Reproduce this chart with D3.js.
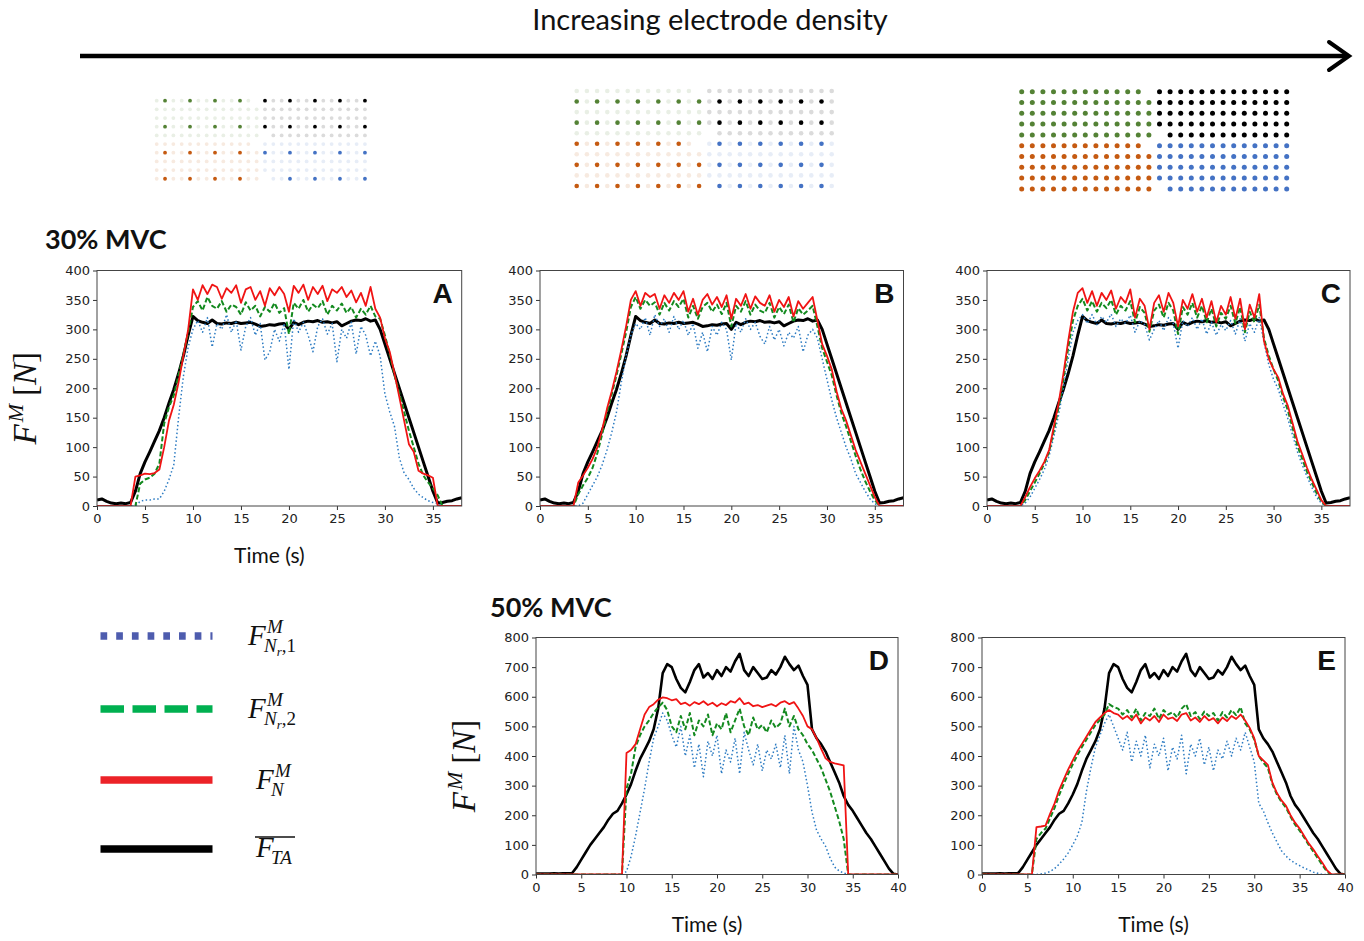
<!DOCTYPE html>
<html>
<head>
<meta charset="utf-8">
<script src="https://cdn.jsdelivr.net/npm/d3@7"></script>
<style>
  body { margin: 0; background: #fff; }
  svg { display: block; }
</style>
</head>
<body>
<svg id="fig" width="1364" height="941"></svg>
<script>
// ---------------- time bases (s) ----------------
const t30 = d3.range(0, 38.001, 0.5);   // 30% MVC trials, 0..38 s
const t50 = d3.range(0, 40.001, 0.5);   // 50% MVC trials, 0..40 s

// ---------------- tick labels ----------------
const xTicks30 = [0, 5, 10, 15, 20, 25, 30, 35];
const yTicks30 = [0, 50, 100, 150, 200, 250, 300, 350, 400];
const xTicks50 = [0, 5, 10, 15, 20, 25, 30, 35, 40];
const yTicks50 = [0, 100, 200, 300, 400, 500, 600, 700, 800];

// ---------------- 30% MVC: measured mean tibialis anterior force (N) ----------------
const meanTA30 = [10,12,8,5,4,5,4,6,
  25,55,75,92,110,128,150,175,198,225,255,290,
  322,315,312,310,316,310,309,311,310,312,
  310,311,312,309,305,306,308,307,309,310,
  300,312,308,312,314,313,315,312,313,311,
  313,306,310,314,316,315,318,314,316,300,
  275,250,225,200,175,150,125,100,75,50,
  25,5,6,8,9,12,14];

// Panel A (lowest electrode density)
const aNr1 = [0,0,0,0,0,0,0,0,
  0,8,10,10,12,12,25,45,70,150,220,270,
  300,315,295,320,270,310,300,325,295,315,
  265,305,320,290,310,248,262,300,280,310,
  232,318,295,312,290,262,305,318,292,310,
  245,300,285,312,258,305,290,255,280,255,
  190,160,135,82,56,45,30,20,14,9,
  6,4,0,0,0,0,0];
const aNr2 = [0,0,0,0,0,0,0,0,
  0,38,45,48,55,72,140,168,188,222,258,295,
  338,348,332,355,340,335,348,330,342,338,
  325,346,332,340,322,338,330,345,328,336,
  292,345,335,350,330,342,336,348,325,340,
  332,344,328,338,320,335,325,340,322,318,
  290,258,222,192,160,128,100,72,52,40,
  30,18,0,0,0,0,0];
const aN = [0,0,0,0,0,0,0,0,
  50,52,55,54,56,62,100,145,172,210,255,300,
  368,350,375,360,376,372,352,370,362,375,
  345,368,372,350,365,340,370,358,372,360,
  330,374,362,376,350,372,360,374,348,368,
  362,372,355,366,346,362,340,372,335,320,
  285,262,225,185,145,105,92,60,55,52,
  48,0,0,0,0,0,0];

// Panel B (medium electrode density)
const bNr1 = [0,0,0,0,0,0,0,0,
  0,5,20,35,50,70,95,125,160,210,255,290,
  310,300,320,290,325,305,318,295,322,300,
  315,290,310,268,295,262,305,290,312,300,
  248,310,295,318,300,312,288,275,305,282,
  300,272,295,285,305,262,290,300,285,250,
  215,180,150,125,100,80,55,40,25,12,
  4,0,0,0,0,0,0];
const bNr2 = [0,0,0,0,0,0,0,0,
  20,35,48,65,90,122,158,190,222,258,295,338,
  355,335,350,340,346,325,345,332,348,338,
  352,320,340,318,338,345,330,342,326,345,
  305,340,330,348,325,342,332,328,345,320,
  338,326,342,312,336,325,332,340,305,268,
  245,222,188,158,135,110,85,62,42,25,
  10,0,0,0,0,0,0];
const bN = [0,0,0,0,0,0,0,0,
  40,52,65,80,100,130,165,195,228,265,305,350,
  365,340,362,355,360,335,358,345,362,350,
  365,330,352,325,350,360,342,355,338,358,
  318,352,340,360,335,356,345,340,358,330,
  350,338,355,322,348,335,345,355,315,275,
  255,232,195,165,145,120,95,75,55,35,
  15,0,0,0,0,0,0];

// Panel C (full electrode density)
const cNr1 = [0,0,0,0,0,0,0,0,
  5,15,30,45,62,85,118,155,200,250,295,315,
  325,310,325,308,322,312,326,305,318,310,
  324,295,315,308,282,300,315,298,320,310,
  268,315,305,320,300,318,292,312,290,308,
  298,315,292,318,280,310,295,320,278,240,
  215,198,172,148,120,92,70,50,32,15,
  5,0,0,0,0,0,0];
const cNr2 = [0,0,0,0,0,0,0,0,
  10,25,40,55,72,92,128,168,215,268,315,340,
  352,332,348,330,345,336,350,325,340,332,
  348,312,338,328,296,332,342,320,345,332,
  292,338,325,345,320,340,312,335,305,328,
  318,340,310,338,295,330,312,342,285,255,
  232,212,185,162,132,102,80,58,40,22,
  8,0,0,0,0,0,0];
const cN = [0,0,0,0,0,0,0,0,
  15,32,47,60,75,95,135,175,225,280,330,362,
  370,345,365,340,362,350,366,335,355,345,
  368,320,352,340,300,345,358,330,362,345,
  305,350,335,360,330,352,320,348,312,340,
  325,355,318,352,300,342,320,360,280,250,
  232,218,190,170,140,110,88,65,45,28,
  10,0,0,0,0,0,0];

// ---------------- 50% MVC ----------------
const meanTA50 = [3,3,3,3,4,3,4,4,
  5,25,50,75,100,120,140,160,185,205,215,240,
  270,305,350,390,420,450,490,560,680,710,
  700,660,630,615,650,690,710,665,680,660,
  690,670,700,685,720,745,690,670,700,680,
  660,665,690,675,700,735,710,690,705,670,
  640,490,460,440,415,380,345,310,265,235,
  215,190,165,140,120,95,70,45,20,2,
  0];

// Panel D (lowest electrode density)
const dNr1 = [0,0,0,0,0,0,0,0,0,0,0,0,0,0,0,0,0,0,0,0,
  10,60,130,210,290,380,460,500,545,520,
  470,430,500,400,470,360,440,330,450,400,
  470,340,420,380,460,340,480,420,370,440,
  350,420,390,440,360,470,340,500,420,380,
  300,210,150,120,95,55,25,12,5,0,
  0,0,0,0,0,0,0,0,0,0,
  0];
const dNr2 = [0,0,0,0,0,0,0,0,0,0,0,0,0,0,0,0,0,0,0,0,
  290,340,430,470,500,520,545,565,580,555,
  500,480,535,490,545,470,520,500,540,470,
  510,490,545,480,520,560,500,470,530,490,
  505,480,520,495,510,560,500,535,490,470,
  440,420,390,360,320,280,230,180,120,0,
  0,0,0,0,0,0,0,0,0,0,
  0];
const dN = [0,0,0,0,0,0,0,0,0,0,0,0,0,0,0,0,0,0,0,0,
  410,420,440,490,540,565,575,590,598,595,
  588,592,575,580,570,582,575,585,572,580,
  568,578,572,585,580,595,575,580,568,572,
  565,570,575,568,580,585,575,582,560,535,
  500,490,460,425,392,380,375,372,368,0,
  0,0,0,0,0,0,0,0,0,0,
  0];

// Panel E (full electrode density)
const eNr1 = [0,0,0,0,0,0,0,0,0,0,0,0,0,
  2,5,10,20,35,52,73,
  100,130,175,280,360,430,470,510,540,500,
  460,420,480,380,450,400,470,360,440,400,
  460,350,430,390,470,340,440,400,460,370,
  430,350,420,390,450,400,460,420,480,430,
  380,240,215,175,140,110,80,62,48,38,
  30,22,15,8,4,0,0,0,0,0,
  0];
const eNr2 = [0,0,0,0,0,0,0,0,0,0,0,0,
  120,140,155,190,225,268,305,340,
  372,402,430,455,480,505,522,540,575,565,
  560,540,555,530,560,520,545,535,560,525,
  555,540,548,530,560,575,535,548,525,550,
  535,545,520,548,530,555,538,565,510,490,
  455,400,378,360,305,270,245,225,195,168,
  148,125,100,78,55,32,10,0,0,0,
  0];
const eN = [0,0,0,0,0,0,0,0,0,0,0,0,
  160,162,165,205,240,285,320,355,
  385,415,440,465,490,515,530,545,555,545,
  540,525,535,520,540,510,530,520,535,515,
  540,525,530,518,540,545,520,530,515,535,
  520,528,510,530,518,535,525,540,520,495,
  460,400,385,370,310,275,250,232,200,175,
  155,130,105,85,62,40,15,0,0,0,
  0];

// ---------------- electrode grids: active rows/cols per 13x5 quadrant ----------------
// quadrant order: top-left, top-right, bottom-left, bottom-right
const quadrantNames = ["topLeft", "topRight", "bottomLeft", "bottomRight"];
const activeRowsLow  = { top: [0, 3], bottom: [1, 4] };
const activeColsLow  = { left: [1, 4, 7, 10], right: [0, 3, 6, 9, 12] };
const activeRowsMid  = { top: [1, 3], bottom: [0, 2, 4] };
const activeColsMid  = { left: [0, 2, 4, 6, 8, 10, 12], right: [1, 3, 5, 7, 9, 11] };

// ---------------- drawing ----------------
const svg = d3.select("#fig");
const TEXT_FONT = "Lato, 'Open Sans', sans-serif";
const TICK_FONT = "'DejaVu Sans', sans-serif";
const MATH_FONT = "'Liberation Serif', 'DejaVu Serif', serif";

const style = {
  black: { stroke: "#000", width: 3, dash: null },
  nr1:   { stroke: "#2c7bc2", width: 1.5, dash: "1.5,2.4" },
  nr2:   { stroke: "#138a1f", width: 2, dash: "5,2.5" },
  n:     { stroke: "#f01414", width: 1.8, dash: null }
};

// Arrow with title
svg.append("text").attr("x", 710).attr("y", 30).attr("text-anchor", "middle")
  .attr("font-family", TEXT_FONT).attr("font-size", 29).attr("fill", "#111")
  .text("Increasing electrode density");
svg.append("line").attr("x1", 80).attr("x2", 1346).attr("y1", 56).attr("y2", 56)
  .attr("stroke", "#000").attr("stroke-width", 4.5);
svg.append("path").attr("d", "M1329,42 L1349,56 L1329,70")
  .attr("fill", "none").attr("stroke", "#000").attr("stroke-width", 4)
  .attr("stroke-linecap", "round").attr("stroke-linejoin", "miter");

// Electrode grid drawing
const quadColors = { topLeft: "#548235", topRight: "#000000", bottomLeft: "#c55a11", bottomRight: "#4472c4" };
function drawGrid(cfg, rowsSel, colsSel) {
  const g = svg.append("g");
  const xs = d3.scaleLinear().domain([0, 1]).range([cfg.x0, cfg.x0 + cfg.dx]);
  const ys = d3.scaleLinear().domain([0, 1]).range([cfg.y0, cfg.y0 + cfg.dy]);
  quadrantNames.forEach(q => {
    const isTop = q.startsWith("top");
    const isLeft = q.endsWith("Left");
    const base = quadColors[q];
    const faint = d3.interpolateRgb(base, "#ffffff")(q === "topRight" ? 0.86 : 0.87);
    for (let r = 0; r < 5; r++) {
      for (let c = 0; c < 13; c++) {
        // each 64-channel grid lacks one corner electrode
        if (isLeft && r === 0 && c === 12) continue;
        if (!isLeft && r === 4 && c === 0) continue;
        const row = isTop ? r : r + 5;
        const col = isLeft ? c : c + 13;
        let active = true;
        if (rowsSel) {
          const rs = isTop ? rowsSel.top : rowsSel.bottom;
          const cs = isLeft ? colsSel.left : colsSel.right;
          active = rs.includes(r) && cs.includes(c);
        }
        g.append("circle").attr("cx", xs(col)).attr("cy", ys(row)).attr("r", cfg.r)
          .attr("fill", active ? base : faint);
      }
    }
  });
}
drawGrid({ x0: 156.7, dx: 8.33, y0: 100.7, dy: 8.67, r: 1.9 }, activeRowsLow, activeColsLow);
drawGrid({ x0: 576.7, dx: 10.2, y0: 91, dy: 10.55, r: 2.3 }, activeRowsMid, activeColsMid);
drawGrid({ x0: 1021.7, dx: 10.6, y0: 91.7, dy: 10.8, r: 2.5 }, null, null);

// Section titles
svg.append("text").attr("x", 45).attr("y", 249).attr("font-family", TEXT_FONT)
  .attr("font-weight", 700).attr("font-size", 27).attr("fill", "#111").text("30% MVC");
svg.append("text").attr("x", 490).attr("y", 617).attr("font-family", TEXT_FONT)
  .attr("font-weight", 700).attr("font-size", 27).attr("fill", "#111").text("50% MVC");

// Panels
const panels = [
  { key: "A", left: 97,  right: 461.7, top: 270.5, bottom: 506, xMax: 38, yMax: 400, xt: xTicks30, yt: yTicks30, t: t30,
    black: meanTA30, nr1: aNr1, nr2: aNr2, n: aN, time: true, ylab: true },
  { key: "B", left: 540, right: 903.5, top: 270.5, bottom: 506, xMax: 38, yMax: 400, xt: xTicks30, yt: yTicks30, t: t30,
    black: meanTA30, nr1: bNr1, nr2: bNr2, n: bN },
  { key: "C", left: 987, right: 1350, top: 270.5, bottom: 506, xMax: 38, yMax: 400, xt: xTicks30, yt: yTicks30, t: t30,
    black: meanTA30, nr1: cNr1, nr2: cNr2, n: cN },
  { key: "D", left: 536, right: 898, top: 637.5, bottom: 874.5, xMax: 40, yMax: 800, xt: xTicks50, yt: yTicks50, t: t50,
    black: meanTA50, nr1: dNr1, nr2: dNr2, n: dN, time: true, ylab: true },
  { key: "E", left: 982, right: 1345, top: 637.5, bottom: 874.5, xMax: 40, yMax: 800, xt: xTicks50, yt: yTicks50, t: t50,
    black: meanTA50, nr1: eNr1, nr2: eNr2, n: eN, time: true }
];

function yLabel(cx, cy) {
  const txt = svg.append("text").attr("transform", `translate(${cx},${cy}) rotate(-90)`)
    .attr("text-anchor", "middle").attr("font-family", MATH_FONT).attr("fill", "#111")
    .attr("font-size", 33);
  txt.append("tspan").attr("font-style", "italic").text("F");
  txt.append("tspan").attr("font-style", "italic").attr("font-size", 22).attr("dy", -13).attr("dx", 2).text("M");
  txt.append("tspan").attr("dy", 13).attr("dx", 8).text("[");
  txt.append("tspan").attr("font-style", "italic").text("N");
  txt.append("tspan").text("]");
}

panels.forEach(p => {
  const g = svg.append("g");
  const x = d3.scaleLinear().domain([0, p.xMax]).range([p.left, p.right]);
  const y = d3.scaleLinear().domain([0, p.yMax]).range([p.bottom, p.top]);

  const ax = g.append("g").attr("transform", `translate(0,${p.bottom})`)
    .call(d3.axisBottom(x).tickValues(p.xt).tickSize(4).tickPadding(4).tickFormat(d3.format("d")));
  const ay = g.append("g").attr("transform", `translate(${p.left},0)`)
    .call(d3.axisLeft(y).tickValues(p.yt).tickSize(4).tickPadding(3).tickFormat(d3.format("d")));
  [ax, ay].forEach(a => {
    a.select(".domain").remove();
    a.selectAll(".tick line").attr("stroke", "#333").attr("stroke-width", 1);
    a.selectAll(".tick text").attr("font-family", TICK_FONT).attr("font-size", 13).attr("fill", "#222");
  });

  const clipId = "clip" + p.key;
  g.append("clipPath").attr("id", clipId).append("rect")
    .attr("x", p.left).attr("y", p.top - 2).attr("width", p.right - p.left).attr("height", p.bottom - p.top + 2);
  const plot = g.append("g").attr("clip-path", `url(#${clipId})`);
  const line = d3.line().x((d, i) => x(p.t[i])).y(d => y(d));
  ["black", "nr1", "nr2", "n"].forEach(k => {
    const s = style[k];
    plot.append("path").datum(p[k]).attr("d", line).attr("fill", "none")
      .attr("stroke", s.stroke).attr("stroke-width", (k === "black" && p.yMax === 800) ? 2.6 : s.width)
      .attr("stroke-dasharray", s.dash).attr("stroke-linejoin", "round");
  });

  g.append("rect").attr("x", p.left).attr("y", p.top).attr("width", p.right - p.left)
    .attr("height", p.bottom - p.top).attr("fill", "none").attr("stroke", "#444").attr("stroke-width", 1);

  g.append("text").attr("x", p.right - 9).attr("y", p.top + 32).attr("text-anchor", "end")
    .attr("font-family", "'Liberation Sans', Arial, sans-serif").attr("font-weight", 700)
    .attr("font-size", 28).attr("fill", "#111").text(p.key);

  if (p.time) {
    g.append("text").attr("x", (p.left + p.right) / 2 - 10).attr("y", p.bottom + 57)
      .attr("text-anchor", "middle").attr("font-family", TEXT_FONT).attr("font-size", 21).attr("fill", "#111")
      .text("Time (s)");
  }
  if (p.ylab) yLabel(p.left - 61, (p.top + p.bottom) / 2 + 10);
});

// ---------------- legend ----------------
const legendItems = [
  { key: "nr1", y: 636, color: "#4e5cae", dash: "6.7,9" },
  { key: "nr2", y: 709, color: "#00b050", dash: "23.5,8.5" },
  { key: "n",   y: 780, color: "#ec2228", dash: null },
  { key: "black", y: 849, color: "#000000", dash: null }
];
legendItems.forEach(it => {
  svg.append("line").attr("x1", 100.5).attr("x2", 212.5).attr("y1", it.y).attr("y2", it.y)
    .attr("stroke", it.color).attr("stroke-width", 7.3).attr("stroke-dasharray", it.dash);
});

function mathText(x, y) {
  return svg.append("text").attr("x", x).attr("y", y).attr("font-family", MATH_FONT)
    .attr("font-size", 29).attr("fill", "#111");
}
// F^M_{N_r,1}
{
  const tx = mathText(248, 645);
  tx.append("tspan").attr("font-style", "italic").text("F");
  tx.append("tspan").attr("font-style", "italic").attr("font-size", 19).attr("x", 267).attr("y", 633).text("M");
  tx.append("tspan").attr("font-style", "italic").attr("font-size", 19).attr("x", 264).attr("y", 652).text("N");
  tx.append("tspan").attr("font-style", "italic").attr("font-size", 13).attr("y", 656).text("r");
  tx.append("tspan").attr("font-size", 19).attr("y", 652).text(",1");
}
// F^M_{N_r,2}
{
  const tx = mathText(248, 718);
  tx.append("tspan").attr("font-style", "italic").text("F");
  tx.append("tspan").attr("font-style", "italic").attr("font-size", 19).attr("x", 267).attr("y", 706).text("M");
  tx.append("tspan").attr("font-style", "italic").attr("font-size", 19).attr("x", 264).attr("y", 725).text("N");
  tx.append("tspan").attr("font-style", "italic").attr("font-size", 13).attr("y", 729).text("r");
  tx.append("tspan").attr("font-size", 19).attr("y", 725).text(",2");
}
// F^M_N
{
  const tx = mathText(256, 789);
  tx.append("tspan").attr("font-style", "italic").text("F");
  tx.append("tspan").attr("font-style", "italic").attr("font-size", 19).attr("x", 275).attr("y", 777).text("M");
  tx.append("tspan").attr("font-style", "italic").attr("font-size", 19).attr("x", 271).attr("y", 796).text("N");
}
// overline F_TA
{
  const tx = mathText(256, 857);
  tx.append("tspan").attr("font-style", "italic").text("F");
  tx.append("tspan").attr("font-style", "italic").attr("font-size", 19).attr("x", 271).attr("y", 864).text("TA");
  svg.append("line").attr("x1", 255).attr("x2", 295).attr("y1", 837).attr("y2", 837)
    .attr("stroke", "#111").attr("stroke-width", 1.4);
}
</script>
</body>
</html>
